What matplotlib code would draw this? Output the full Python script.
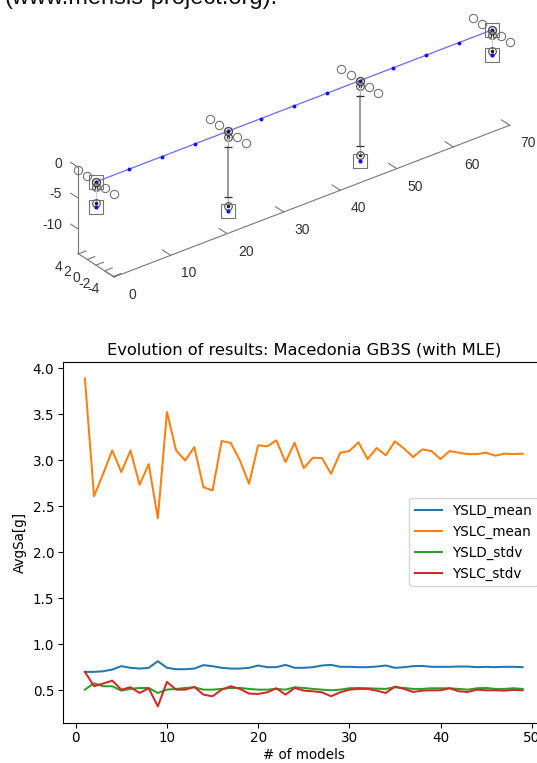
import numpy as np
import matplotlib
matplotlib.use("Agg")
import matplotlib.pyplot as plt
from mpl_toolkits.mplot3d import proj3d

# =========================
# top: bridge model (x along deck, y transverse, z vertical)
# =========================
deck_x = [0, 5.83, 11.67, 17.5, 23.33, 29.17, 35, 40.83, 46.67, 52.5, 58.33, 64.17, 70]
deck_z = -0.5
pier_x = [23.33, 46.67]
abut_x = [0, 70]
bearing_y = [4.2, 2.1, 0, -2.1, -4.2]
link_z = -1.35
col_top_z = -3.0
col_bot_z = -11.1
pier_node_z = -12.6
pier_base_z = -13.5
abut_node_z = -3.85
abut_base_z = -4.6

x_ticks = [0, 10, 20, 30, 40, 50, 60, 70]
y_ticks = [4, 2, 0, -2, -4]
z_ticks = [0, -5, -10]

# =========================
# bottom: evolution of results
# =========================
n_models = list(range(1, 50))
ysld_mean = [0.700, 0.700, 0.707, 0.725, 0.762, 0.744, 0.736, 0.744, 0.816, 0.744,
             0.729, 0.729, 0.736, 0.773, 0.762, 0.744, 0.736, 0.736, 0.744, 0.769,
             0.751, 0.751, 0.776, 0.744, 0.744, 0.751, 0.769, 0.776, 0.755, 0.755,
             0.751, 0.751, 0.758, 0.769, 0.744, 0.751, 0.762, 0.765, 0.755, 0.755,
             0.755, 0.758, 0.758, 0.751, 0.755, 0.751, 0.755, 0.755, 0.751]
yslc_mean = [3.888, 2.608, 2.850, 3.106, 2.870, 3.106, 2.732, 2.957, 2.368, 3.524,
             3.106, 2.997, 3.142, 2.706, 2.670, 3.208, 3.186, 2.997, 2.743, 3.161,
             3.150, 3.215, 2.979, 3.190, 2.913, 3.026, 3.022, 2.852, 3.081, 3.099,
             3.194, 3.012, 3.132, 3.052, 3.204, 3.125, 3.033, 3.117, 3.099, 3.012,
             3.099, 3.081, 3.066, 3.066, 3.081, 3.048, 3.070, 3.066, 3.070]
ysld_stdv = [0.507, 0.576, 0.544, 0.544, 0.496, 0.515, 0.525, 0.525, 0.471, 0.507,
             0.515, 0.525, 0.533, 0.507, 0.507, 0.515, 0.525, 0.525, 0.515, 0.507,
             0.507, 0.515, 0.507, 0.533, 0.525, 0.515, 0.507, 0.500, 0.507, 0.522,
             0.525, 0.522, 0.518, 0.515, 0.533, 0.525, 0.515, 0.515, 0.522, 0.522,
             0.522, 0.515, 0.507, 0.522, 0.525, 0.515, 0.515, 0.522, 0.515]
yslc_stdv = [0.700, 0.544, 0.573, 0.605, 0.507, 0.533, 0.471, 0.522, 0.326, 0.591,
             0.507, 0.507, 0.536, 0.453, 0.435, 0.507, 0.544, 0.515, 0.464, 0.460,
             0.478, 0.522, 0.453, 0.525, 0.496, 0.489, 0.478, 0.435, 0.478, 0.507,
             0.515, 0.515, 0.496, 0.471, 0.540, 0.515, 0.482, 0.496, 0.500, 0.500,
             0.522, 0.489, 0.482, 0.507, 0.500, 0.500, 0.496, 0.504, 0.500]

W, H = 537, 763
fig = plt.figure(figsize=(W / 100, H / 100), dpi=100)

# cut-off caption line at the very top
fig.text(5 / W, 1 - 4 / H, "(www.mensis-project.org).", fontsize=17,
         family="Liberation Sans", color="#111111", va="baseline")

# =========================
# 3D model
# =========================
ax3 = fig.add_axes([0.0, 0.5, 1.0, 0.5], projection="3d", proj_type="ortho")
ax3.set_facecolor("none")
grey = "#737373"
light = "#b4b4b4"

def node(ax, x, y, z):
    ax.plot([x], [y], [z], ls="none", marker="o", ms=5.5, mfc="none", mec="#4a4a4a", mew=0.8)
    ax.plot([x], [y], [z], ls="none", marker="o", ms=1.6, color="#222222")

# deck
ax3.plot(deck_x, [0] * len(deck_x), [deck_z] * len(deck_x), color="#6a6aff", lw=0.9,
         marker="o", ms=1.8, mfc="#1010ff", mec="#1010ff")

for sx in pier_x + abut_x:
    ax3.plot([sx] * len(bearing_y), bearing_y, [deck_z] * len(bearing_y), ls="none",
             marker="o", ms=6, mfc="none", mec=grey, mew=0.8)
    node(ax3, sx, 0, deck_z)
    node(ax3, sx, 0, link_z)

for sx in pier_x:
    ax3.plot([sx, sx], [0, 0], [link_z, col_top_z], color=light, lw=1.0)
    ax3.plot([sx, sx], [0, 0], [col_top_z, col_bot_z], color="#8a8a8a", lw=1.2)
    ax3.plot([sx, sx], [0, 0], [col_bot_z, pier_node_z], color=light, lw=1.0)
    ax3.plot([sx, sx], [0, 0], [col_top_z, col_bot_z], ls="none", marker="_", ms=6,
             mew=0.9, color="#333333")
    node(ax3, sx, 0, pier_node_z)
    ax3.plot([sx], [0], [pier_base_z], ls="none", marker="s", ms=9.5, mfc="none",
             mec=grey, mew=0.8)
    ax3.plot([sx], [0], [pier_base_z], ls="none", marker="o", ms=2, color="#1010ff")

for sx in abut_x:
    ax3.plot([sx], [0], [deck_z], ls="none", marker="s", ms=9.5, mfc="none", mec=grey, mew=0.8)
    ax3.plot([sx, sx], [0, 0], [link_z, abut_node_z], color="#d0d0d0", lw=0.8)
    node(ax3, sx, 0, abut_node_z)
    ax3.plot([sx], [0], [abut_base_z], ls="none", marker="s", ms=9.5, mfc="none",
             mec=grey, mew=0.8)
    ax3.plot([sx], [0], [abut_base_z], ls="none", marker="o", ms=2, color="#1010ff")

x_lo, x_hi = 0, 70
y_lo, y_hi = -4.2, 4.2
z_lo, z_hi = -14, 0
ax3.set_xlim(x_lo, x_hi)
ax3.set_ylim(y_lo, y_hi)
ax3.set_zlim(z_lo, z_hi)
ax3.set_box_aspect((x_hi - x_lo, y_hi - y_lo, z_hi - z_lo))
ax3.view_init(elev=30, azim=-127.5)
ax3.set_xticks(x_ticks)
ax3.set_yticks(y_ticks)
ax3.set_zticks(z_ticks)
ax3.grid(False)

# z ticks point along +y (towards the back), like the reference
zinfo = {k: dict(v) for k, v in ax3.zaxis._AXINFO.items()}
zinfo["z"]["tickdir"] = 1
ax3.zaxis._AXINFO = zinfo

tick_out = {"x": 2.8, "y": 0.24, "z": 2.4}
for name, axis in (("x", ax3.xaxis), ("y", ax3.yaxis), ("z", ax3.zaxis)):
    axis.set_pane_color((1, 1, 1, 0))
    axis.pane.set_edgecolor((1, 1, 1, 0))
    axis.line.set_color("#777777")
    axis.line.set_linewidth(0.8)
    axis._axinfo["tick"]["inward_factor"] = 0.0
    axis._axinfo["tick"]["outward_factor"] = tick_out[name]
    axis.set_tick_params(color="#777777", width=0.8, labelbottom=False)
    axis.label.set_visible(False)
    axis.offsetText.set_visible(False)

# tick labels placed the MATLAB way (hyphen minus, Arial-like font)
lab_kw = dict(fontsize=10, family="Liberation Sans", color="#333333")
for t in x_ticks:
    ax3.text(t, y_lo - 4.25, z_lo - 0.97, str(t), ha="center", va="center", **lab_kw)
for t in y_ticks:
    ax3.text(x_lo - 3.48, t, z_lo - 0.85, str(t), ha="center", va="center", **lab_kw)
for t in z_ticks:
    ax3.text(x_lo - 1.18, y_hi + 2.07, t, str(t), ha="right", va="center", **lab_kw)

# place the 3D box so its corners land where the reference has them
tA = np.array([77.7, H - 253.3])
tB = np.array([510.0, H - 126.0])
cA = (x_lo, y_hi, z_lo)
cB = (x_hi, y_lo, z_lo)

def corner_px(p):
    xs, ys, _ = proj3d.proj_transform(p[0], p[1], p[2], ax3.get_proj())
    return ax3.transData.transform((xs, ys))

for _ in range(2):
    fig.canvas.draw()
    a, b = corner_px(cA), corner_px(cB)
    k = np.linalg.norm(tB - tA) / np.linalg.norm(b - a)
    pos = ax3.get_position(original=True)
    cx, cy = pos.x0 + pos.width / 2, pos.y0 + pos.height / 2
    nw, nh = pos.width * k, pos.height * k
    ax3.set_position([cx - nw / 2, cy - nh / 2, nw, nh])
    fig.canvas.draw()
    a = corner_px(cA)
    pos = ax3.get_position(original=True)
    d = (tA - a) / np.array([W, H])
    ax3.set_position([pos.x0 + d[0], pos.y0 + d[1], pos.width, pos.height])

# =========================
# 2D chart
# =========================
ax = fig.add_axes([63 / W, (H - 722.7) / H, 481.5 / W, 360.7 / H])
ax.set_zorder(5)
fs = 9.75
ax.plot(n_models, ysld_mean, label="YSLD_mean", lw=1.45)
ax.plot(n_models, yslc_mean, label="YSLC_mean", lw=1.45)
ax.plot(n_models, ysld_stdv, label="YSLD_stdv", lw=1.45)
ax.plot(n_models, yslc_stdv, label="YSLC_stdv", lw=1.45)
ax.set_title("Evolution of results: Macedonia GB3S (with MLE)", fontsize=11.7, pad=5.5)
ax.set_xlabel("# of models", fontsize=fs, labelpad=2.0)
ax.set_ylabel("AvgSa[g]", fontsize=fs)
ax.tick_params(labelsize=fs, pad=2.8)
ax.legend(loc="center right", fontsize=fs)

fig.savefig("out.png", dpi=100)
